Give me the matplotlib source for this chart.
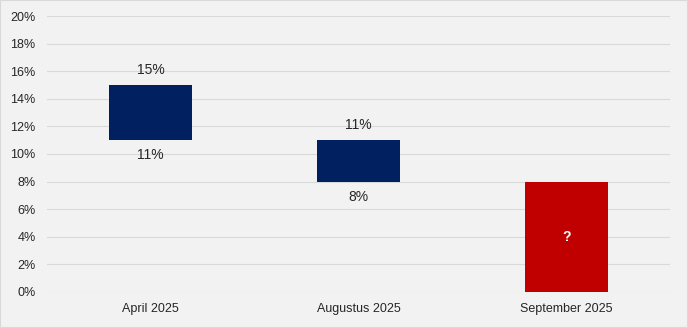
import matplotlib.pyplot as plt
from matplotlib.patches import Rectangle

categories = ['April 2025', 'Augustus 2025', 'September 2025']
low = [11, 8, 0]
high = [15, 11, 8]
colors = ['#002060', '#002060', '#C00000']
yticks = [0, 2, 4, 6, 8, 10, 12, 14, 16, 18, 20]

plt.rcParams['font.family'] = ['Liberation Sans', 'DejaVu Sans']

fig = plt.figure(figsize=(6.88, 3.28), dpi=100, facecolor='#F2F2F2')
ax = fig.add_axes([0.068, 0.110, 0.906, 0.841])
ax.set_facecolor('#F2F2F2')

x = range(len(categories))
ax.bar(x, [h - l for h, l in zip(high, low)], bottom=low, width=0.4,
       color=colors, zorder=3)

for i in x:
    if i < 2:
        ax.text(i, high[i] + 0.6, f'{high[i]}%', ha='center', va='bottom',
                fontsize=10, color='#262626')
        ax.text(i, low[i] - 0.6, f'{low[i]}%', ha='center', va='top',
                fontsize=10, color='#262626')
    else:
        ax.text(i, (low[i] + high[i]) / 2, '?', ha='center', va='center',
                fontsize=10, color='white', fontweight='bold')

ax.set_xlim(-0.5, 2.5)
ax.set_ylim(0, 20)
ax.set_yticks(yticks)
ax.set_yticklabels([f'{t}%' for t in yticks], fontsize=9, color='#262626')
ax.set_xticks(list(x))
ax.set_xticklabels(categories, fontsize=9, color='#262626')
ax.grid(axis='y', color='#D9D9D9', linewidth=0.8, zorder=0)
ax.tick_params(length=0, pad=8)
for s in ax.spines.values():
    s.set_visible(False)

fig.patches.append(Rectangle((0, 0), 1, 1, transform=fig.transFigure,
                             fill=False, edgecolor='#D9D9D9', linewidth=1.5))

fig.savefig('out.png', dpi=100, facecolor=fig.get_facecolor())
